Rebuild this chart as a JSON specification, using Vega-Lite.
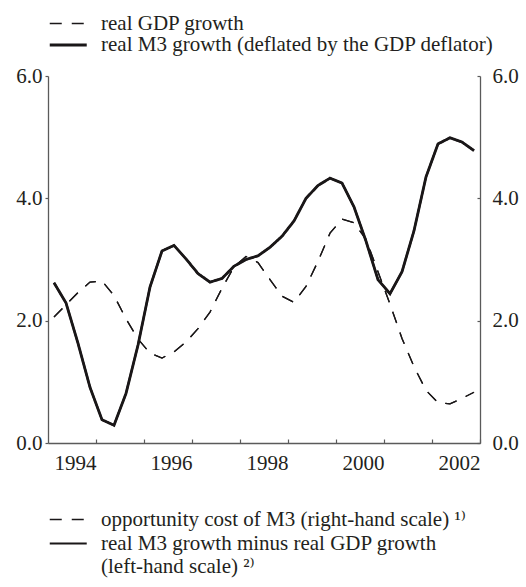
{
  "$schema": "https://vega.github.io/schema/vega-lite/v6.json",
  "width": 432,
  "height": 367,
  "autosize": "none",
  "padding": {"left": 48, "top": 76, "right": 46, "bottom": 144},
  "background": "white",
  "config": {
    "view": {"stroke": null},
    "font": "Times New Roman, Times, Liberation Serif, DejaVu Serif, serif",
    "axis": {
      "grid": false,
      "domainColor": "#5a5a5a",
      "domainWidth": 1.3,
      "tickColor": "#5a5a5a",
      "tickWidth": 1.2,
      "labelFont": "Times New Roman, Times, Liberation Serif, DejaVu Serif, serif",
      "labelFontSize": 21,
      "labelColor": "#231f20",
      "title": null
    },
    "legend": {
      "labelFont": "Times New Roman, Times, Liberation Serif, DejaVu Serif, serif",
      "labelFontSize": 21,
      "labelColor": "#231f20",
      "symbolType": "M-1,0H3",
      "symbolSize": 342,
      "symbolStrokeColor": "#1a1718",
      "padding": 0,
      "labelOffset": 31,
      "labelLimit": 500,
      "title": null
    }
  },
  "data": {
    "values": [
      {"t": 1993.125, "s": "real GDP growth", "v": 2.06},
      {"t": 1993.375, "s": "real GDP growth", "v": 2.26},
      {"t": 1993.625, "s": "real GDP growth", "v": 2.46},
      {"t": 1993.875, "s": "real GDP growth", "v": 2.63},
      {"t": 1994.125, "s": "real GDP growth", "v": 2.65},
      {"t": 1994.375, "s": "real GDP growth", "v": 2.41},
      {"t": 1994.625, "s": "real GDP growth", "v": 2.03},
      {"t": 1994.875, "s": "real GDP growth", "v": 1.70},
      {"t": 1995.125, "s": "real GDP growth", "v": 1.47},
      {"t": 1995.375, "s": "real GDP growth", "v": 1.39},
      {"t": 1995.625, "s": "real GDP growth", "v": 1.49},
      {"t": 1995.875, "s": "real GDP growth", "v": 1.65},
      {"t": 1996.125, "s": "real GDP growth", "v": 1.87},
      {"t": 1996.375, "s": "real GDP growth", "v": 2.14},
      {"t": 1996.625, "s": "real GDP growth", "v": 2.53},
      {"t": 1996.875, "s": "real GDP growth", "v": 2.88},
      {"t": 1997.125, "s": "real GDP growth", "v": 3.05},
      {"t": 1997.375, "s": "real GDP growth", "v": 2.95},
      {"t": 1997.625, "s": "real GDP growth", "v": 2.67},
      {"t": 1997.875, "s": "real GDP growth", "v": 2.40},
      {"t": 1998.125, "s": "real GDP growth", "v": 2.30},
      {"t": 1998.375, "s": "real GDP growth", "v": 2.56},
      {"t": 1998.625, "s": "real GDP growth", "v": 2.97},
      {"t": 1998.875, "s": "real GDP growth", "v": 3.43},
      {"t": 1999.125, "s": "real GDP growth", "v": 3.66},
      {"t": 1999.375, "s": "real GDP growth", "v": 3.60},
      {"t": 1999.625, "s": "real GDP growth", "v": 3.33},
      {"t": 1999.875, "s": "real GDP growth", "v": 2.80},
      {"t": 2000.125, "s": "real GDP growth", "v": 2.27},
      {"t": 2000.375, "s": "real GDP growth", "v": 1.71},
      {"t": 2000.625, "s": "real GDP growth", "v": 1.25},
      {"t": 2000.875, "s": "real GDP growth", "v": 0.86},
      {"t": 2001.125, "s": "real GDP growth", "v": 0.66},
      {"t": 2001.375, "s": "real GDP growth", "v": 0.64},
      {"t": 2001.625, "s": "real GDP growth", "v": 0.73},
      {"t": 2001.875, "s": "real GDP growth", "v": 0.83},
      {"t": 1993.125, "s": "real M3 growth (deflated by the GDP deflator)", "v": 2.62},
      {"t": 1993.375, "s": "real M3 growth (deflated by the GDP deflator)", "v": 2.29},
      {"t": 1993.625, "s": "real M3 growth (deflated by the GDP deflator)", "v": 1.63},
      {"t": 1993.875, "s": "real M3 growth (deflated by the GDP deflator)", "v": 0.91},
      {"t": 1994.125, "s": "real M3 growth (deflated by the GDP deflator)", "v": 0.38},
      {"t": 1994.375, "s": "real M3 growth (deflated by the GDP deflator)", "v": 0.29},
      {"t": 1994.625, "s": "real M3 growth (deflated by the GDP deflator)", "v": 0.81},
      {"t": 1994.875, "s": "real M3 growth (deflated by the GDP deflator)", "v": 1.60},
      {"t": 1995.125, "s": "real M3 growth (deflated by the GDP deflator)", "v": 2.55},
      {"t": 1995.375, "s": "real M3 growth (deflated by the GDP deflator)", "v": 3.14},
      {"t": 1995.625, "s": "real M3 growth (deflated by the GDP deflator)", "v": 3.23},
      {"t": 1995.875, "s": "real M3 growth (deflated by the GDP deflator)", "v": 3.01},
      {"t": 1996.125, "s": "real M3 growth (deflated by the GDP deflator)", "v": 2.77},
      {"t": 1996.375, "s": "real M3 growth (deflated by the GDP deflator)", "v": 2.63},
      {"t": 1996.625, "s": "real M3 growth (deflated by the GDP deflator)", "v": 2.69},
      {"t": 1996.875, "s": "real M3 growth (deflated by the GDP deflator)", "v": 2.89},
      {"t": 1997.125, "s": "real M3 growth (deflated by the GDP deflator)", "v": 3.00},
      {"t": 1997.375, "s": "real M3 growth (deflated by the GDP deflator)", "v": 3.06},
      {"t": 1997.625, "s": "real M3 growth (deflated by the GDP deflator)", "v": 3.20},
      {"t": 1997.875, "s": "real M3 growth (deflated by the GDP deflator)", "v": 3.38},
      {"t": 1998.125, "s": "real M3 growth (deflated by the GDP deflator)", "v": 3.63},
      {"t": 1998.375, "s": "real M3 growth (deflated by the GDP deflator)", "v": 4.00},
      {"t": 1998.625, "s": "real M3 growth (deflated by the GDP deflator)", "v": 4.21},
      {"t": 1998.875, "s": "real M3 growth (deflated by the GDP deflator)", "v": 4.33},
      {"t": 1999.125, "s": "real M3 growth (deflated by the GDP deflator)", "v": 4.25},
      {"t": 1999.375, "s": "real M3 growth (deflated by the GDP deflator)", "v": 3.86},
      {"t": 1999.625, "s": "real M3 growth (deflated by the GDP deflator)", "v": 3.30},
      {"t": 1999.875, "s": "real M3 growth (deflated by the GDP deflator)", "v": 2.67},
      {"t": 2000.125, "s": "real M3 growth (deflated by the GDP deflator)", "v": 2.44},
      {"t": 2000.375, "s": "real M3 growth (deflated by the GDP deflator)", "v": 2.80},
      {"t": 2000.625, "s": "real M3 growth (deflated by the GDP deflator)", "v": 3.47},
      {"t": 2000.875, "s": "real M3 growth (deflated by the GDP deflator)", "v": 4.35},
      {"t": 2001.125, "s": "real M3 growth (deflated by the GDP deflator)", "v": 4.89},
      {"t": 2001.375, "s": "real M3 growth (deflated by the GDP deflator)", "v": 4.99},
      {"t": 2001.625, "s": "real M3 growth (deflated by the GDP deflator)", "v": 4.92},
      {"t": 2001.875, "s": "real M3 growth (deflated by the GDP deflator)", "v": 4.78}
    ]
  },
  "encoding": {
    "x": {
      "field": "t",
      "type": "quantitative",
      "scale": {"domain": [1993, 2002], "nice": false, "zero": false},
      "axis": {
        "values": [1994, 1995, 1996, 1997, 1998, 1999, 2000, 2001, 2002],
        "labelExpr": "datum.value % 2 == 0 ? datum.label : ''",
        "format": "d",
        "labelAlign": "right",
        "labelFlush": false,
        "labelBaseline": "top",
        "tickSize": -4,
        "labelPadding": 13
      }
    }
  },
  "layer": [
    {
      "mark": {"type": "line", "color": "#1a1718", "strokeJoin": "miter"},
      "encoding": {
        "y": {
          "field": "v",
          "type": "quantitative",
          "scale": {"domain": [0, 6], "nice": false},
          "axis": {"orient": "left", "values": [0, 2, 4, 6], "format": ".1f", "tickSize": 3, "labelPadding": 3}
        },
        "strokeDash": {
          "field": "s",
          "type": "nominal",
          "scale": {"domain": ["real GDP growth", "real M3 growth (deflated by the GDP deflator)"], "range": [[12, 10], [1, 0]]},
          "legend": {"orient": "none", "legendX": 0, "legendY": -63, "rowPadding": -2,
            "encode": {"symbols": {"update": {"strokeDash": {"signal": "datum.value == 'real GDP growth' ? [13, 11] : [1, 0]"}}}}}
        },
        "strokeWidth": {
          "field": "s",
          "type": "nominal",
          "scale": {"domain": ["real GDP growth", "real M3 growth (deflated by the GDP deflator)"], "range": [1.3, 2.8]},
          "legend": {"orient": "none", "legendX": 0, "legendY": -63, "rowPadding": -2,
            "encode": {"symbols": {"update": {"strokeDash": {"signal": "datum.value == 'real GDP growth' ? [13, 11] : [1, 0]"}}}}}
        }
      }
    },
    {
      "mark": {"type": "line", "color": "#1a1718", "strokeJoin": "miter"},
      "encoding": {
        "y": {
          "field": "v",
          "type": "quantitative",
          "scale": {"domain": [0, 6], "nice": false},
          "axis": {"orient": "right", "values": [0, 2, 4, 6], "format": ".1f", "tickSize": -3, "labelPadding": 15}
        },
        "strokeDash": {
          "field": "s",
          "type": "nominal",
          "scale": {"domain": ["real GDP growth", "real M3 growth (deflated by the GDP deflator)", "note"], "range": [[12, 10], [1, 0], [1, 0]]},
          "legend": {"orient": "none", "legendX": 0, "legendY": 433, "rowPadding": 2,
            "labelExpr": "datum.label == 'real GDP growth' ? 'opportunity cost of M3 (right-hand scale) ¹⁾' : datum.label == 'note' ? '(left-hand scale) ²⁾' : 'real M3 growth minus real GDP growth'",
            "encode": {"symbols": {"update": {"strokeDash": {"signal": "datum.value == 'real GDP growth' ? [13, 11] : [1, 0]"}, "opacity": {"signal": "datum.value == 'note' ? 0 : 1"}}}}}
        },
        "strokeWidth": {
          "field": "s",
          "type": "nominal",
          "scale": {"domain": ["real GDP growth", "real M3 growth (deflated by the GDP deflator)", "note"], "range": [1.3, 2.8, 2.8]},
          "legend": {"orient": "none", "legendX": 0, "legendY": 433, "rowPadding": 2,
            "labelExpr": "datum.label == 'real GDP growth' ? 'opportunity cost of M3 (right-hand scale) ¹⁾' : datum.label == 'note' ? '(left-hand scale) ²⁾' : 'real M3 growth minus real GDP growth'",
            "encode": {"symbols": {"update": {"strokeDash": {"signal": "datum.value == 'real GDP growth' ? [13, 11] : [1, 0]"}, "opacity": {"signal": "datum.value == 'note' ? 0 : 1"}}}}}
        }
      }
    }
  ],
  "resolve": {"scale": {"y": "independent", "strokeDash": "independent", "strokeWidth": "independent"}}
}
